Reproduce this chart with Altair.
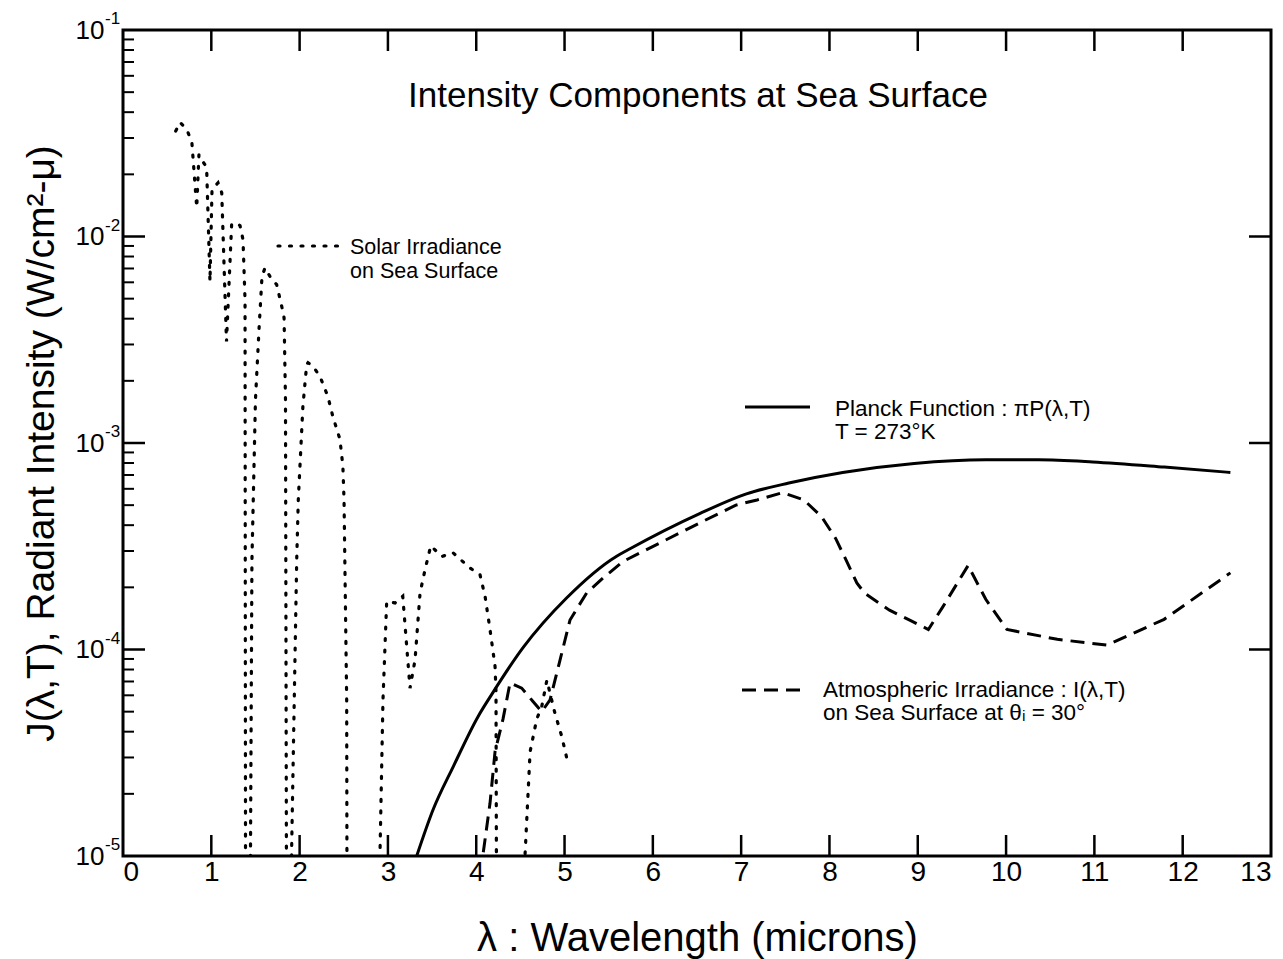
import altair as alt
import pandas as pd

# Solar irradiance on the sea surface (dotted)
solar_wl = [0.597, 0.646, 0.68, 0.736, 0.78, 0.835, 0.86, 0.89, 0.947, 0.985,
            1.008, 1.076, 1.118, 1.172, 1.23, 1.28, 1.325, 1.359, 1.382, 1.388,
            1.44, 1.46, 1.50, 1.54, 1.574, 1.608, 1.665, 1.74, 1.797, 1.824,
            1.84, 1.852, 1.905, 1.91, 1.967, 1.985, 2.037, 2.08, 2.095, 2.152,
            2.231, 2.32, 2.377, 2.457, 2.49, 2.503, 2.533, 2.537, 2.90, 2.91,
            2.944, 2.986, 3.08, 3.168, 3.25, 3.307, 3.364, 3.42, 3.485, 3.61,
            3.737, 3.93, 4.043, 4.10, 4.156, 4.213, 4.224, 4.23, 4.548, 4.553,
            4.61, 4.685, 4.742, 4.80, 4.892, 4.968, 5.025]
solar_val = [0.0324, 0.0357, 0.0345, 0.0319, 0.0285, 0.0138, 0.0249, 0.0236, 0.0216, 0.00607,
             0.0169, 0.0182, 0.0163, 0.0031, 0.0114, 0.0117, 0.0113, 0.00966, 0.0049, 5e-6,
             5e-6, 2.7e-4, 1.62e-3, 0.00354, 0.0064, 0.00705, 0.0064, 0.00585, 0.0046, 0.00404,
             0.00162, 5e-6, 5e-6, 1.1e-5, 2.7e-4, 5.3e-4, 0.0015, 0.0024, 0.00245, 0.00235,
             0.0021, 0.00168, 0.00134, 0.00104, 7.7e-4, 5.3e-4, 5.7e-5, 5e-6, 5e-6, 1.02e-5,
             5.7e-5, 1.71e-4, 1.68e-4, 1.81e-4, 6.5e-5, 8.9e-5, 1.88e-4, 2.43e-4, 3.18e-4, 2.82e-4,
             2.94e-4, 2.48e-4, 2.3e-4, 1.81e-4, 1.25e-4, 8.3e-5, 6.2e-5, 5e-6, 5e-6, 1.02e-5,
             3.2e-5, 4.6e-5, 5.3e-5, 7.1e-5, 4.9e-5, 3.8e-5, 2.98e-5]

# Atmospheric irradiance I(lambda, T) on the sea surface (dashed)
atm_wl = [4.05, 4.077, 4.156, 4.213, 4.303, 4.383, 4.515, 4.643, 4.742, 4.836,
          4.892, 5.062, 5.251, 5.436, 5.663, 6.53, 6.94, 7.18, 7.47, 7.71,
          7.91, 8.07, 8.19, 8.31, 8.40, 8.68, 8.92, 9.12, 9.28, 9.57,
          9.77, 10.01, 10.58, 11.14, 11.79, 12.54]
atm_val = [5e-6, 1.02e-5, 1.8e-5, 3.2e-5, 4.6e-5, 6.9e-5, 6.5e-5, 5.6e-5, 5.0e-5, 5.7e-5,
           7.1e-5, 1.39e-4, 1.88e-4, 2.22e-4, 2.67e-4, 4.1e-4, 5.0e-4, 5.3e-4, 5.75e-4, 5.3e-4,
           4.4e-4, 3.45e-4, 2.7e-4, 2.1e-4, 1.87e-4, 1.55e-4, 1.38e-4, 1.25e-4, 1.6e-4, 2.55e-4,
           1.75e-4, 1.25e-4, 1.12e-4, 1.05e-4, 1.4e-4, 2.35e-4]

# Planck function pi*P(lambda, T) at T = 273 K (solid)
planck_wl = [3.326, 3.51, 3.74, 4.02, 4.19, 4.53, 5.02, 5.59, 5.72, 6.53,
             7.06, 7.54, 8.15, 8.96, 9.77, 10.37, 10.98, 11.79, 12.54]
planck_val = [1.0e-5, 1.67e-5, 2.71e-5, 4.73e-5, 6.2e-5, 1.02e-4, 1.77e-4, 2.83e-4, 3.04e-4, 4.55e-4,
              5.67e-4, 6.4e-4, 7.2e-4, 7.96e-4, 8.29e-4, 8.29e-4, 8.1e-4, 7.65e-4, 7.2e-4]

x_ticks = list(range(0, 14))
y_major = [1e-5, 1e-4, 1e-3, 1e-2, 1e-1]
y_exponents = ["-5", "-4", "-3", "-2", "-1"]
y_minor = [m * 10.0 ** e for e in range(-5, -1) for m in range(2, 10)]

W, H = 1148, 826
FONT = "Liberation Sans"

xs = alt.Scale(domain=[0, 13], nice=False, zero=False)
ys = alt.Scale(type="log", domain=[1e-5, 1e-1], nice=False)

xaxis = alt.Axis(values=x_ticks, title="λ : Wavelength (microns)", grid=False,
                 ticks=False, domain=False, labelFontSize=28, labelPadding=2,
                 labelFlush=True, labelOverlap=False, titleFontSize=40,
                 titleFontWeight="normal", titleY=82, titleBaseline="middle")
yaxis = alt.Axis(values=y_major, grid=False, ticks=False, domain=False,
                 labelExpr="'10'", labelFontSize=26, labelPadding=19,
                 labelFlush=False, labelOverlap=False,
                 title="J(λ,T), Radiant Intensity (W/cm²-μ)", titleFontSize=39,
                 titleFontWeight="normal", titleX=-82, titleBaseline="middle")

X = alt.X("wl:Q", scale=xs, axis=xaxis)
Y = alt.Y("val:Q", scale=ys, axis=yaxis)


def series(wl, val):
    return pd.DataFrame({"wl": wl, "val": val, "i": range(len(wl))})


solar = alt.Chart(series(solar_wl, solar_val)).mark_line(
    clip=True, color="black", strokeWidth=3.2, strokeDash=[2, 9.5], strokeCap="round"
).encode(x=X, y=Y, order="i:Q")

atm = alt.Chart(series(atm_wl, atm_val)).mark_line(
    clip=True, color="black", strokeWidth=3, strokeDash=[14, 8]
).encode(x=X, y=Y, order="i:Q")

planck = alt.Chart(series(planck_wl, planck_val)).mark_line(
    clip=True, color="black", strokeWidth=3, interpolate="monotone"
).encode(x=X, y=Y, order="i:Q")

# exponents of the decade labels on the intensity axis
exps = alt.Chart(pd.DataFrame({"val": y_major, "e": y_exponents})).mark_text(
    align="left", baseline="middle", fontSize=17, font=FONT, color="black", dy=-11
).encode(y=Y, x=alt.value(-18), text="e:N")

# inward frame ticks
xt = pd.DataFrame({"wl": x_ticks[1:-1]})
ymaj = pd.DataFrame({"val": y_major[1:-1]})
ymin = pd.DataFrame({"val": y_minor})

tick_bottom = alt.Chart(xt).mark_rule(color="black", strokeWidth=2.5).encode(
    x=X, y=alt.value(H), y2=alt.value(H - 21))
tick_top = alt.Chart(xt).mark_rule(color="black", strokeWidth=2.5).encode(
    x=X, y=alt.value(0), y2=alt.value(21))
tick_left = alt.Chart(ymaj).mark_rule(color="black", strokeWidth=2.5).encode(
    y=Y, x=alt.value(0), x2=alt.value(22))
tick_left_minor = alt.Chart(ymin).mark_rule(color="black", strokeWidth=2).encode(
    y=Y, x=alt.value(0), x2=alt.value(11))
tick_right = alt.Chart(ymaj).mark_rule(color="black", strokeWidth=2.5).encode(
    y=Y, x=alt.value(W), x2=alt.value(W - 22))


def note(text, x, y, size, align="left", baseline="alphabetic"):
    return alt.Chart(pd.DataFrame({"t": [text]})).mark_text(
        align=align, baseline=baseline, fontSize=size, font=FONT, color="black"
    ).encode(x=alt.value(x), y=alt.value(y), text="t:N")


def key(x1, x2, y, dash=None, cap="butt", width=3):
    kw = dict(color="black", strokeWidth=width, strokeCap=cap)
    if dash:
        kw["strokeDash"] = dash
    return alt.Chart(pd.DataFrame({"k": [0]})).mark_rule(**kw).encode(
        x=alt.value(x1), x2=alt.value(x2), y=alt.value(y))


labels = [
    note("Intensity Components at Sea Surface", 575, 77, 35, align="center"),
    key(155, 216, 216, dash=[2, 9.5], cap="round", width=3.2),
    note("Solar Irradiance", 227, 224, 21.5),
    note("on Sea Surface", 227, 248, 21.5),
    key(622, 687, 377),
    note("Planck Function : πP(λ,T)", 712, 386, 22.5),
    note("T = 273°K", 712, 409, 22.5),
    key(619, 677, 660, dash=[14, 8]),
    note("Atmospheric Irradiance : I(λ,T)", 700, 667, 22.5),
    note("on Sea Surface at θᵢ = 30°", 700, 690, 22.5),
]

chart = alt.layer(
    planck, atm, solar, exps,
    tick_bottom, tick_top, tick_left, tick_left_minor, tick_right,
    *labels
).properties(
    width=W, height=H,
    autosize=alt.AutoSizeParams(type="none"),
    padding={"left": 123, "top": 30, "right": 12, "bottom": 103},
    background="white",
).configure_view(
    stroke="black", strokeWidth=3
).configure_axis(
    labelColor="black", titleColor="black", labelFont=FONT, titleFont=FONT
)

chart.save("out.html", embed_options={"renderer": "svg", "actions": False})
